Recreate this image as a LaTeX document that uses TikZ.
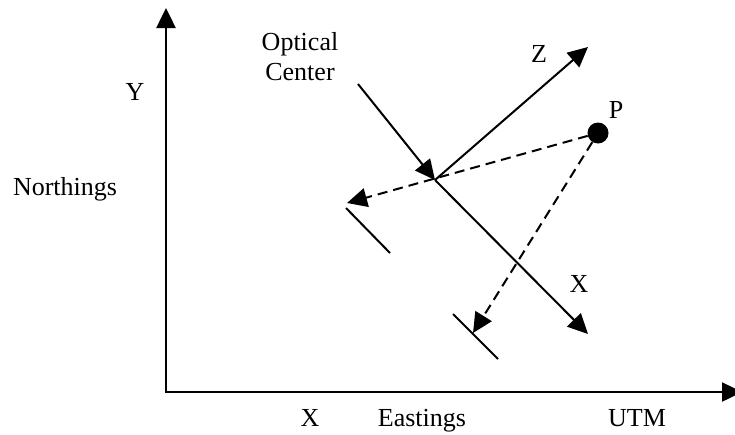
\documentclass[tikz,border=0pt]{standalone}
\usepackage{fontspec}
\setmainfont{Liberation Serif}
\usetikzlibrary{arrows.meta}

\begin{document}
\begin{tikzpicture}[x=1pt, y=-1pt, font=\fontsize{26}{30}\selectfont, >={Triangle[length=20pt,width=19pt]},
  axis/.style={line width=2.5pt},
  ray/.style={line width=2pt, ->},
  proj/.style={ray, dash pattern=on 10pt off 6pt},
  plane/.style={line width=2pt},
  lbl/.style={anchor=base, inner sep=0pt, align=center}]
\useasboundingbox (0,0) rectangle (735,434);
% UTM frame
\coordinate (orig) at (166,392);
\coordinate (ytip) at (166,8);
\coordinate (xtip) at (742,392);
\draw[axis, <->] (ytip) -- (orig) -- (xtip);
\node[lbl] (ylab)  at (135,100) {Y};
\node[lbl] (north) at (65,195)  {Northings};
\node[lbl] (xlab)  at (310,426) {X};
\node[lbl] (east)  at (422,426) {Eastings};
\node[lbl] (utm)   at (637,426) {UTM};
% camera
\coordinate (oc)     at (435,180);
\coordinate (zend)   at (588,47);
\coordinate (xend)   at (588,334);
\coordinate (ocfrom) at (358,84);
\node[lbl] (oclab) at (300,80)  {Optical\\Center};
\node[lbl] (zlab)  at (539,62)  {Z};
\node[lbl] (xclab) at (579,292) {X};
\draw[ray] (oc) -- (zend);
\draw[ray] (oc) -- (xend);
\draw[ray] (ocfrom) -- (oc);
% object point and its images
\node[circle, fill, inner sep=0pt, minimum size=21pt] (pt) at (598,133) {};
\node[lbl] (plab) at (616,118) {P};
\coordinate (img1) at (347,203);
\coordinate (img2) at (473,333);
\draw[proj] (pt) -- (img1);
\draw[proj] (pt) -- (img2);
\coordinate (pl1a) at (346,208);
\coordinate (pl1b) at (390,253);
\coordinate (pl2a) at (453,314);
\coordinate (pl2b) at (498,359);
\draw[plane] (pl1a) -- (pl1b);
\draw[plane] (pl2a) -- (pl2b);
\end{tikzpicture}
\end{document}
